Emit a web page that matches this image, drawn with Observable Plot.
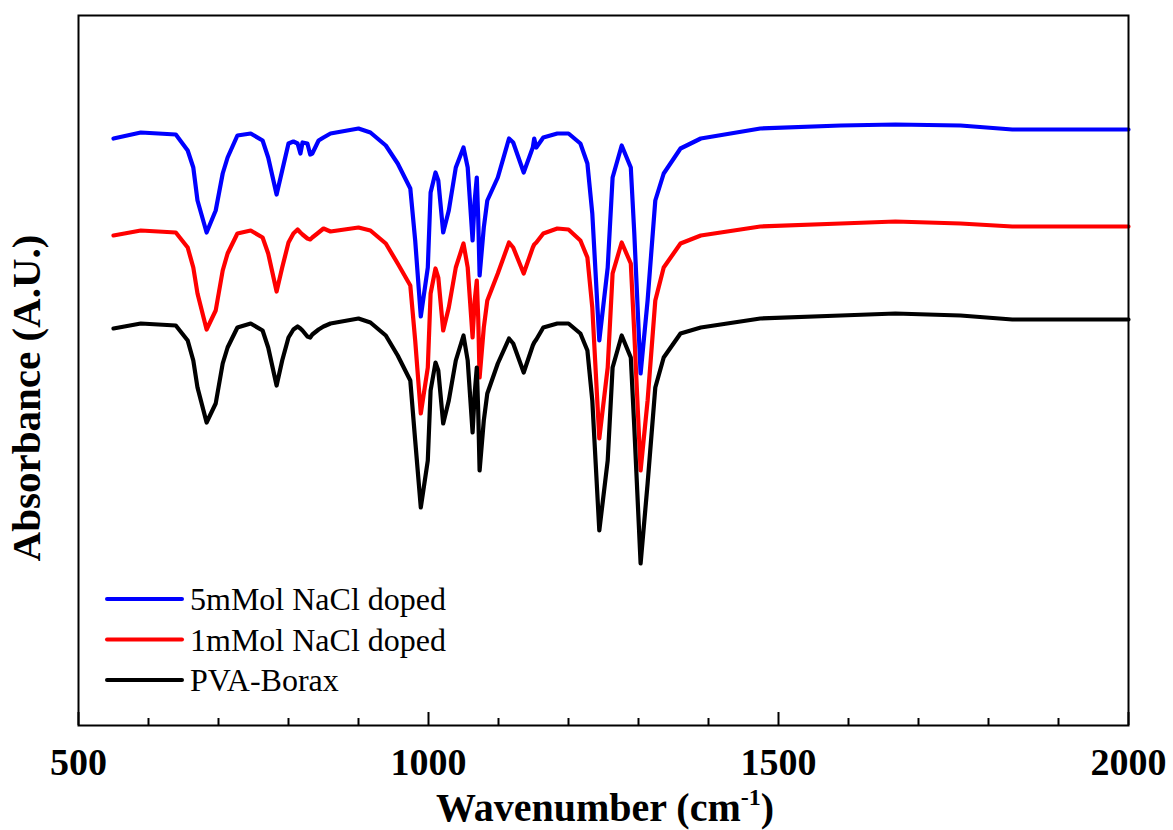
<!DOCTYPE html>
<html><head><meta charset="utf-8">
<script src="https://cdn.jsdelivr.net/npm/d3@7"></script>
<script src="https://cdn.jsdelivr.net/npm/@observablehq/plot@0.6"></script>
<style>body{margin:0;background:#fff} #chart{width:1173px;height:830px}</style>
</head><body><div id="chart"></div>
<script>
const wavenumber = [550,589,639,656,664,670,683,696,706,713,727,746,763,771,783,791,800,807,813,817,820,827,831,834,843,850,860,900,917,939,956,974,981,989,999,1003,1010,1014,1021,1029,1039,1050,1056,1063,1066,1069,1071,1073,1079,1084,1099,1115,1121,1136,1149,1151,1154,1164,1184,1200,1217,1227,1234,1244,1256,1263,1276,1289,1294,1303,1313,1324,1336,1360,1389,1474,1589,1667,1760,1834,2000];

const nacl5 = [5.87,5.93,5.91,5.75,5.58,5.25,4.93,5.15,5.52,5.68,
5.90,5.92,5.85,5.68,5.31,5.55,5.82,5.84,5.82,5.72,
5.83,5.82,5.71,5.72,5.85,5.88,5.92,5.97,5.93,5.80,
5.62,5.37,4.85,4.09,4.58,5.33,5.53,5.45,4.93,5.15,
5.58,5.78,5.58,4.85,5.25,5.48,5.08,4.50,4.98,5.25,
5.48,5.87,5.83,5.53,5.78,5.87,5.78,5.88,5.92,5.92,
5.82,5.62,5.12,3.85,4.58,5.48,5.80,5.58,4.92,3.52,
4.25,5.25,5.52,5.77,5.87,5.97,6.00,6.01,6.00,5.96,
5.96];

const nacl1 = [4.90,4.95,4.93,4.78,4.58,4.32,3.96,4.15,4.55,4.72,
4.92,4.95,4.88,4.72,4.34,4.58,4.83,4.92,4.96,4.93,
4.91,4.87,4.86,4.88,4.93,4.97,4.94,4.98,4.95,4.82,
4.62,4.40,3.85,3.12,3.58,4.32,4.57,4.48,3.95,4.18,
4.58,4.82,4.58,3.88,4.25,4.45,4.08,3.48,3.98,4.25,
4.52,4.83,4.78,4.52,4.78,4.81,4.83,4.92,4.97,4.96,
4.85,4.68,4.18,2.87,3.58,4.52,4.83,4.62,3.92,2.55,
3.25,4.25,4.58,4.82,4.90,4.99,5.02,5.04,5.02,4.99,
4.99];

const pvaBorax = [3.97,4.02,4.00,3.85,3.65,3.38,3.03,3.22,3.62,3.78,
3.98,4.02,3.95,3.78,3.40,3.65,3.88,3.96,3.99,3.97,
3.95,3.89,3.88,3.91,3.96,3.99,4.02,4.07,4.03,3.90,
3.70,3.45,2.85,2.18,2.65,3.35,3.63,3.55,3.02,3.25,
3.65,3.90,3.65,2.93,3.32,3.58,3.15,2.55,3.05,3.32,
3.62,3.87,3.82,3.53,3.80,3.83,3.86,3.98,4.02,4.02,
3.92,3.75,3.25,1.95,2.65,3.58,3.90,3.68,2.98,1.62,
2.42,3.38,3.68,3.92,3.98,4.07,4.10,4.12,4.10,4.06,
4.06];

const seriesNames = ["5mMol NaCl doped", "1mMol NaCl doped", "PVA-Borax"];
const seriesValues = [nacl5, nacl1, pvaBorax];
const seriesColors = ["#0000ff", "#ff0000", "#000000"];
const majorTicks = [500, 1000, 1500, 2000];
const minorTicks = [600,700,800,900,1100,1200,1300,1400,1600,1700,1800,1900];
const xLabel = "Wavenumber (cm";
const xLabelSup = "-1";
const yLabel = "Absorbance (A.U.)";

const rows = seriesNames.flatMap((name, i) =>
  wavenumber.map((x, j) => ({series: name, x, y: seriesValues[i][j]})));

const W = 1173, H = 830, mL = 78, mR = 45, mT = 15, mB = 105;
const frameH = H - mT - mB;
const font = "'Liberation Serif', 'Times New Roman', 'DejaVu Serif', serif";

const svg = Plot.plot({
  width: W, height: H,
  marginLeft: mL, marginRight: mR, marginTop: mT, marginBottom: mB,
  style: {fontFamily: font, background: "#fff", color: "#000"},
  x: {domain: [500, 2000], axis: null},
  y: {domain: [0, 7.1], axis: null},
  color: {domain: seriesNames, range: seriesColors},
  marks: [
    Plot.line(rows, {x: "x", y: "y", z: "series", stroke: "series", strokeWidth: 4.2, strokeLinejoin: "round", strokeLinecap: "round"}),
    Plot.tickX(minorTicks, {x: d => d, insetTop: frameH - 7, stroke: "#000", strokeWidth: 2}),
    Plot.tickX(majorTicks, {x: d => d, insetTop: frameH - 13, stroke: "#000", strokeWidth: 2}),
    Plot.frame({stroke: "#000", strokeWidth: 2}),
    Plot.text(majorTicks, {x: d => d, text: d => String(d), frameAnchor: "bottom", lineAnchor: "bottom", dy: 49, fontSize: 38, fontWeight: "bold", fill: "#000"})
  ]
});

const s = d3.select(svg);
// x axis title with superscript
const xt = s.append("text")
  .attr("x", (mL + W - mR) / 2 + 2).attr("y", 821)
  .attr("text-anchor", "middle")
  .style("font-family", font).style("font-size", "40px").style("font-weight", "bold").attr("fill", "#000");
xt.append("tspan").text(xLabel);
xt.append("tspan").attr("dy", -16).style("font-size", "24px").text(xLabelSup);
xt.append("tspan").attr("dy", 16).text(")");

// y axis title
s.append("text")
  .attr("transform", "translate(40,398) rotate(-90)")
  .attr("text-anchor", "middle")
  .style("font-family", font).style("font-size", "41px").style("font-weight", "bold").attr("fill", "#000")
  .text(yLabel);

// legend
const lg = s.append("g");
seriesNames.forEach((name, i) => {
  const y = 599 + i * 40.5;
  lg.append("line").attr("x1", 107).attr("x2", 182).attr("y1", y).attr("y2", y)
    .attr("stroke", seriesColors[i]).attr("stroke-width", 4).attr("stroke-linecap", "round");
  lg.append("text").attr("x", 190).attr("y", y + 11).attr("text-anchor", "start")
    .style("font-family", font).style("font-size", "32px").attr("fill", "#000").text(name);
});

document.getElementById("chart").appendChild(svg);
</script>
</body></html>
